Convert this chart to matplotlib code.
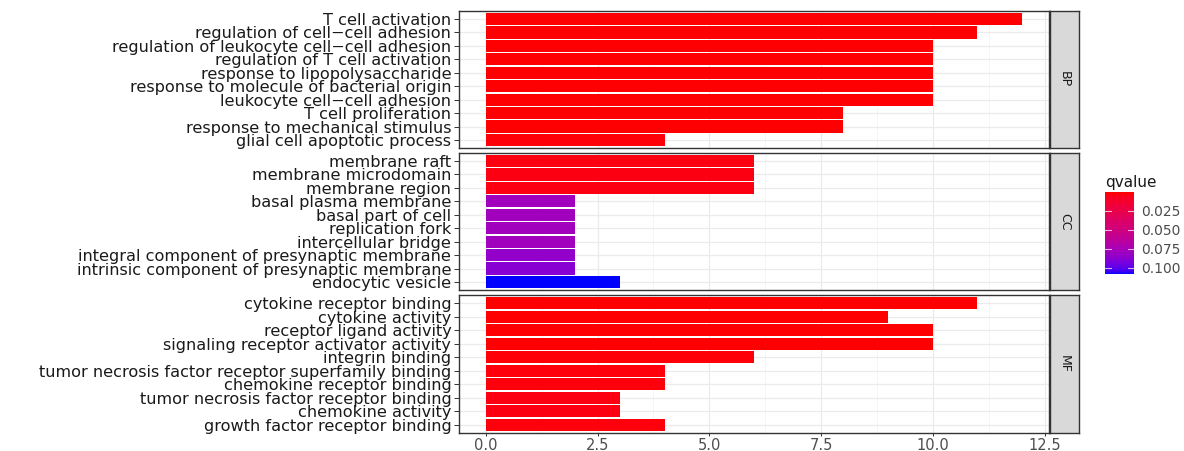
import numpy as np
import matplotlib
matplotlib.use("Agg")
import matplotlib.pyplot as plt
from matplotlib.colors import ListedColormap, Normalize
from matplotlib.ticker import MultipleLocator

# data
bp_terms = ["T cell activation", "regulation of cell\u2212cell adhesion",
            "regulation of leukocyte cell\u2212cell adhesion", "regulation of T cell activation",
            "response to lipopolysaccharide", "response to molecule of bacterial origin",
            "leukocyte cell\u2212cell adhesion", "T cell proliferation",
            "response to mechanical stimulus", "glial cell apoptotic process"]
bp_counts = [12, 11, 10, 10, 10, 10, 10, 8, 8, 4]
bp_q = [0.001, 0.001, 0.001, 0.001, 0.001, 0.001, 0.001, 0.001, 0.001, 0.002]

cc_terms = ["membrane raft", "membrane microdomain", "membrane region",
            "basal plasma membrane", "basal part of cell", "replication fork",
            "intercellular bridge", "integral component of presynaptic membrane",
            "intrinsic component of presynaptic membrane", "endocytic vesicle"]
cc_counts = [6, 6, 6, 2, 2, 2, 2, 2, 2, 3]
cc_q = [0.004, 0.004, 0.004, 0.078, 0.078, 0.078, 0.078, 0.084, 0.088, 0.108]

mf_terms = ["cytokine receptor binding", "cytokine activity", "receptor ligand activity",
            "signaling receptor activator activity", "integrin binding",
            "tumor necrosis factor receptor superfamily binding", "chemokine receptor binding",
            "tumor necrosis factor receptor binding", "chemokine activity",
            "growth factor receptor binding"]
mf_counts = [11, 9, 10, 10, 6, 4, 4, 3, 3, 4]
mf_q = [0.0005, 0.001, 0.001, 0.001, 0.002, 0.003, 0.003, 0.004, 0.004, 0.003]

facets = ["BP", "CC", "MF"]
q_ticks = [0.025, 0.050, 0.075, 0.100]


# red -> blue gradient interpolated in Lab, like ggplot
def srgb_to_lab(c):
    c = np.asarray(c, float)
    lin = np.where(c <= 0.04045, c / 12.92, ((c + 0.055) / 1.055) ** 2.4)
    M = np.array([[0.4124, 0.3576, 0.1805], [0.2126, 0.7152, 0.0722], [0.0193, 0.1192, 0.9505]])
    xyz = M @ lin / np.array([0.95047, 1.0, 1.08883])
    f = np.where(xyz > 0.008856, np.cbrt(xyz), 7.787 * xyz + 16 / 116)
    return np.array([116 * f[1] - 16, 500 * (f[0] - f[1]), 200 * (f[1] - f[2])])


def lab_to_srgb(lab):
    L, a, b = lab
    fy = (L + 16) / 116
    f = np.array([fy + a / 500, fy, fy - b / 200])
    xyz = np.where(f ** 3 > 0.008856, f ** 3, (f - 16 / 116) / 7.787) * np.array([0.95047, 1.0, 1.08883])
    Mi = np.array([[3.2406, -1.5372, -0.4986], [-0.9689, 1.8758, 0.0415], [0.0557, -0.2040, 1.0570]])
    lin = np.clip(Mi @ xyz, 0, 1)
    return np.clip(np.where(lin <= 0.0031308, 12.92 * lin, 1.055 * lin ** (1 / 2.4) - 0.055), 0, 1)


lab_r, lab_b = srgb_to_lab([1, 0, 0]), srgb_to_lab([0, 0, 1])
cmap = ListedColormap([lab_to_srgb(lab_r + t * (lab_b - lab_r)) for t in np.linspace(0, 1, 256)])
all_q = bp_q + cc_q + mf_q
norm = Normalize(vmin=min(all_q), vmax=max(all_q))

W, H = 1184, 451
fig = plt.figure(figsize=(W / 100, H / 100), dpi=100)
plt.rcParams["font.family"] = "DejaVu Sans"


def box(x0, y0, x1, y1):
    return [x0 / W, 1 - y1 / H, (x1 - x0) / W, (y1 - y0) / H]


panels = [(11, 148), (153, 290), (295, 433)]
data = [(bp_terms, bp_counts, bp_q), (cc_terms, cc_counts, cc_q), (mf_terms, mf_counts, mf_q)]

for i, ((y0, y1), (terms, counts, qs), name) in enumerate(zip(panels, data, facets)):
    ax = fig.add_axes(box(459, y0, 1049, y1))
    pos = np.arange(len(terms))[::-1] + 1
    ax.barh(pos, counts, height=0.9, color=cmap(norm(qs)), zorder=3)
    ax.set_xlim(-0.6, 12.6)
    ax.set_ylim(0.4, len(terms) + 0.6)
    ax.set_yticks(pos)
    ax.set_yticklabels(terms, fontsize=11.6, color="#1a1a1a")
    ax.xaxis.set_major_locator(MultipleLocator(2.5))
    ax.xaxis.set_minor_locator(MultipleLocator(1.25))
    ax.grid(True, which="major", color="#EBEBEB", lw=0.9, zorder=0)
    ax.grid(True, which="minor", axis="x", color="#F4F4F4", lw=0.6, zorder=0)
    ax.tick_params(axis="y", length=3.5, width=0.7, color="#333333", pad=2)
    ax.tick_params(axis="x", which="both", length=0)
    if i < 2:
        ax.set_xticklabels([])
    else:
        ax.tick_params(axis="x", length=2.5, width=0.7, color="#333333", labelsize=10.5,
                       labelcolor="#4D4D4D", pad=1)
        ax.set_xticks([0, 2.5, 5, 7.5, 10, 12.5])
        ax.set_xticklabels(["0.0", "2.5", "5.0", "7.5", "10.0", "12.5"])
    for s in ax.spines.values():
        s.set_color("#333333")
        s.set_linewidth(1.0)

    sax = fig.add_axes(box(1050, y0, 1079, y1))
    sax.set_facecolor("#D9D9D9")
    sax.set_xticks([])
    sax.set_yticks([])
    for s in sax.spines.values():
        s.set_color("#333333")
        s.set_linewidth(1.0)
    sax.text(0.5, 0.5, name, rotation=-90, ha="center", va="center",
             fontsize=9, color="#1a1a1a", transform=sax.transAxes)

# colour bar legend
cax = fig.add_axes(box(1105, 192, 1134, 274))
grad = np.linspace(norm.vmin, norm.vmax, 256).reshape(-1, 1)
cax.imshow(grad, aspect="auto", cmap=cmap, norm=norm, origin="upper",
           extent=[0, 1, norm.vmax, norm.vmin])
cax.set_xlim(0, 1)
cax.set_ylim(norm.vmax, norm.vmin)
for q in q_ticks:
    cax.plot([0, 0.2], [q, q], color="white", lw=0.8, alpha=0.7)
    cax.plot([0.8, 1], [q, q], color="white", lw=0.8, alpha=0.7)
cax.set_xticks([])
cax.yaxis.tick_right()
cax.set_yticks(q_ticks)
cax.set_yticklabels(["%.3f" % q for q in q_ticks], fontsize=10, color="#4D4D4D")
cax.tick_params(axis="y", length=0, pad=5)
for s in cax.spines.values():
    s.set_visible(False)
fig.text(1105 / W, 1 - 183 / H, "qvalue", fontsize=11, color="#1a1a1a", ha="left", va="center")

fig.savefig("out.png", dpi=100)
